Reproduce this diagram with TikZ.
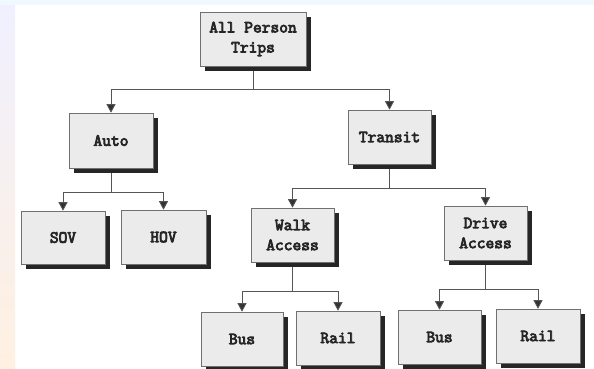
\documentclass[tikz,border=0pt]{standalone}
\usepackage{fontspec}
\newfontfamily\boxfont[FakeBold=4.5]{Latin Modern Mono}
\usetikzlibrary{shadows,arrows.meta}
\pgfdeclarelayer{background}
\pgfdeclarelayer{back2}
\pgfsetlayers{back2,background,main}
\definecolor{boxfill}{HTML}{EBEBEB}
\definecolor{boxline}{HTML}{707070}
\definecolor{linec}{HTML}{555555}
\tikzset{
  tbox/.style={rectangle, draw=boxline, line width=0.6pt, fill=boxfill,
    minimum width=84pt, minimum height=54pt, inner sep=1pt, align=center,
    font=\boxfont\fontsize{17}{20}\selectfont, text=black!85,
    drop shadow={shadow xshift=4.5pt, shadow yshift=-4.5pt, fill=black!85, opacity=1}},
  conn/.style={draw=linec, line width=0.8pt},
  arr/.style={conn, -{Triangle[width=9pt,length=8.5pt]}, arrows={[fill=black!80]}}
}
\begin{document}
\begin{tikzpicture}[x=1pt,y=-1pt]
\useasboundingbox (0,0) rectangle (594,368);
\begin{pgfonlayer}{back2}
  \fill[white] (0,0) rectangle (594,368);
  \shade[top color=blue!6, bottom color=orange!12, draw=none] (0,0) rectangle (15,368);
  \fill[cyan!6] (0,0) rectangle (594,5);
\end{pgfonlayer}

\node[tbox, minimum width=106pt] (apt) at (253,39) {All Person\\Trips};
\node[tbox, minimum height=55pt] (auto) at (111,140.5) {Auto};
\node[tbox, minimum width=83pt] (transit) at (389.5,137) {Transit};
\node[tbox, minimum height=53pt] (sov) at (63,237.5) {SOV};
\node[tbox, minimum width=85pt] (hov) at (163.5,237) {HOV};
\node[tbox, minimum width=83pt] (walk) at (292.5,235) {Walk\\Access};
\node[tbox, minimum width=83pt] (drive) at (485.5,233) {Drive\\Access};
\node[tbox, minimum width=82pt] (bus1) at (242,339) {Bus};
\node[tbox] (rail1) at (338,338) {Rail};
\node[tbox, minimum width=83pt] (bus2) at (439.5,337) {Bus};
\node[tbox] (rail2) at (538,336) {Rail};

\coordinate (b0) at (253,89);
\coordinate (b1) at (111,192);
\coordinate (b2) at (389.5,188);
\coordinate (b3) at (292.5,291);
\coordinate (b4) at (485.5,289);

\begin{pgfonlayer}{background}
  \draw[conn] (apt.south) -- (b0);
  \draw[arr] (b0) -| (auto.north);
  \draw[arr] (b0) -| (transit.north);
  \draw[conn] (auto.south) -- (b1);
  \draw[arr] (b1) -| (sov.north);
  \draw[arr] (b1) -| (hov.north);
  \draw[conn] (transit.south) -- (b2);
  \draw[arr] (b2) -| (walk.north);
  \draw[arr] (b2) -| (drive.north);
  \draw[conn] (walk.south) -- (b3);
  \draw[arr] (b3) -| (bus1.north);
  \draw[arr] (b3) -| (rail1.north);
  \draw[conn] (drive.south) -- (b4);
  \draw[arr] (b4) -| (bus2.north);
  \draw[arr] (b4) -| (rail2.north);
\end{pgfonlayer}
\end{tikzpicture}
\end{document}
